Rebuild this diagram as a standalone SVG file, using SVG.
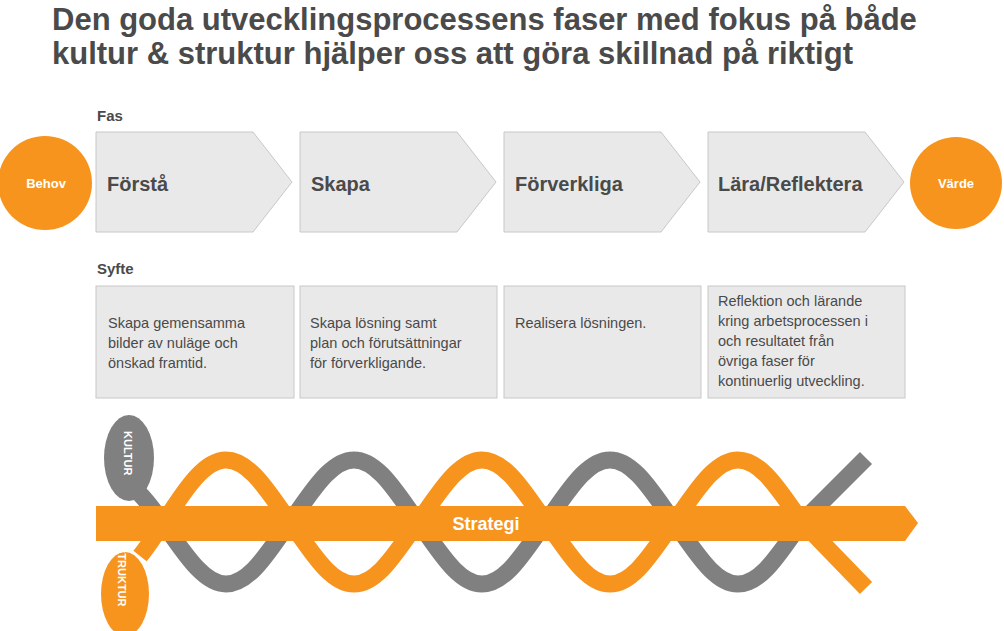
<svg xmlns="http://www.w3.org/2000/svg" width="1004" height="631" viewBox="0 0 1004 631">
<style>
text{font-family:"Liberation Sans",Arial,sans-serif;fill:#4a4a4a}
.t{font-size:31px;font-weight:bold}
.lbl{font-size:15px;font-weight:bold}
.ph{font-size:20px;font-weight:bold}
.desc{font-size:14.5px}
.chev,.box{fill:#e9e9e9;stroke:#c8c8c8;stroke-width:1}
.circ{fill:#f7941d}
.ct{fill:#fff;font-size:13px;font-weight:bold}
.w{fill:none;stroke-width:17}
</style>
<rect width="1004" height="631" fill="#fff"/>
<text class="t" x="52" y="30">Den goda utvecklingsprocessens faser med fokus på både</text>
<text class="t" x="52" y="64">kultur &amp; struktur hjälper oss att göra skillnad på riktigt</text>
<text class="lbl" x="97" y="121">Fas</text>
<text class="lbl" x="97" y="274">Syfte</text>
<g id="behov"><circle class="circ" cx="45" cy="183" r="47"/><text class="ct" x="46" y="188" text-anchor="middle">Behov</text></g>
<g id="varde"><circle class="circ" cx="956" cy="183" r="46"/><text class="ct" x="956" y="188" text-anchor="middle">Värde</text></g>
<g id="forsta"><path class="chev" d="M96,132H253L292,182L253,232H96Z"/><text class="ph" x="107" y="191">Förstå</text></g>
<g id="skapa"><path class="chev" d="M300,132H457L496,182L457,232H300Z"/><text class="ph" x="311" y="191">Skapa</text></g>
<g id="forverkliga"><path class="chev" d="M504,132H661L700,182L661,232H504Z"/><text class="ph" x="515" y="191">Förverkliga</text></g>
<g id="lara"><path class="chev" d="M708,132H865L904,182L865,232H708Z"/><text class="ph" x="718" y="191">Lära/Reflektera</text></g>
<g id="syfte1"><rect class="box" x="96" y="286" width="198" height="112"/><text class="desc" x="108" y="328">Skapa gemensamma</text><text class="desc" x="108" y="348">bilder av nuläge och</text><text class="desc" x="108" y="368">önskad framtid.</text></g>
<g id="syfte2"><rect class="box" x="300" y="286" width="197" height="112"/><text class="desc" x="310" y="328">Skapa lösning samt</text><text class="desc" x="310" y="348">plan och förutsättningar</text><text class="desc" x="310" y="368">för förverkligande.</text></g>
<g id="syfte3"><rect class="box" x="504" y="286" width="197" height="112"/><text class="desc" x="515" y="328">Realisera lösningen.</text></g>
<g id="syfte4"><rect class="box" x="708" y="286" width="197" height="112"/><text class="desc" x="718" y="306">Reflektion och lärande</text><text class="desc" x="718" y="326">kring arbetsprocessen i</text><text class="desc" x="718" y="346">och resultatet från</text><text class="desc" x="718" y="366">övriga faser för</text><text class="desc" x="718" y="386">kontinuerlig utveckling.</text></g>
<g id="helix">
<ellipse cx="129" cy="458" rx="25" ry="43" fill="#808080"/>
<ellipse cx="125" cy="594" rx="24" ry="42" fill="#f7941d"/>
<path class="w" stroke="#808080" d="M140,494 C170,525 195,584 226,584 C251,584 271,547 290,522 C309,497 329,460 354,460 C379,460 399,497 418,522 C437,547 457,584 482,584 C507,584 527,547 546,522 C565,497 585,460 610,460 C635,460 655,497 674,522 C693,547 713,584 738,584 C763,584 783,547 802,522 L866,458"/>
<path class="w" stroke="#f7941d" d="M140,556 C170,519 195,460 226,460 C251,460 271,497 290,522 C309,547 329,584 354,584 C379,584 399,547 418,522 C437,497 457,460 482,460 C507,460 527,497 546,522 C565,547 585,584 610,584 C635,584 655,547 674,522 C693,497 713,460 738,460 C763,460 783,497 802,522 L866,588"/>
<path d="M96,506H905L918,523L905,541H96Z" fill="#f7941d"/>
<text x="486" y="530" text-anchor="middle" style="fill:#fff;font-size:18px;font-weight:bold">Strategi</text>
<text transform="translate(124,431) rotate(90)" style="fill:#fff;font-size:11px;font-weight:bold">KULTUR</text>
<text transform="translate(118,546) rotate(90)" style="fill:#fff;font-size:11px;font-weight:bold">STRUKTUR</text>
</g>
<g id="connectors"></g>
</svg>
